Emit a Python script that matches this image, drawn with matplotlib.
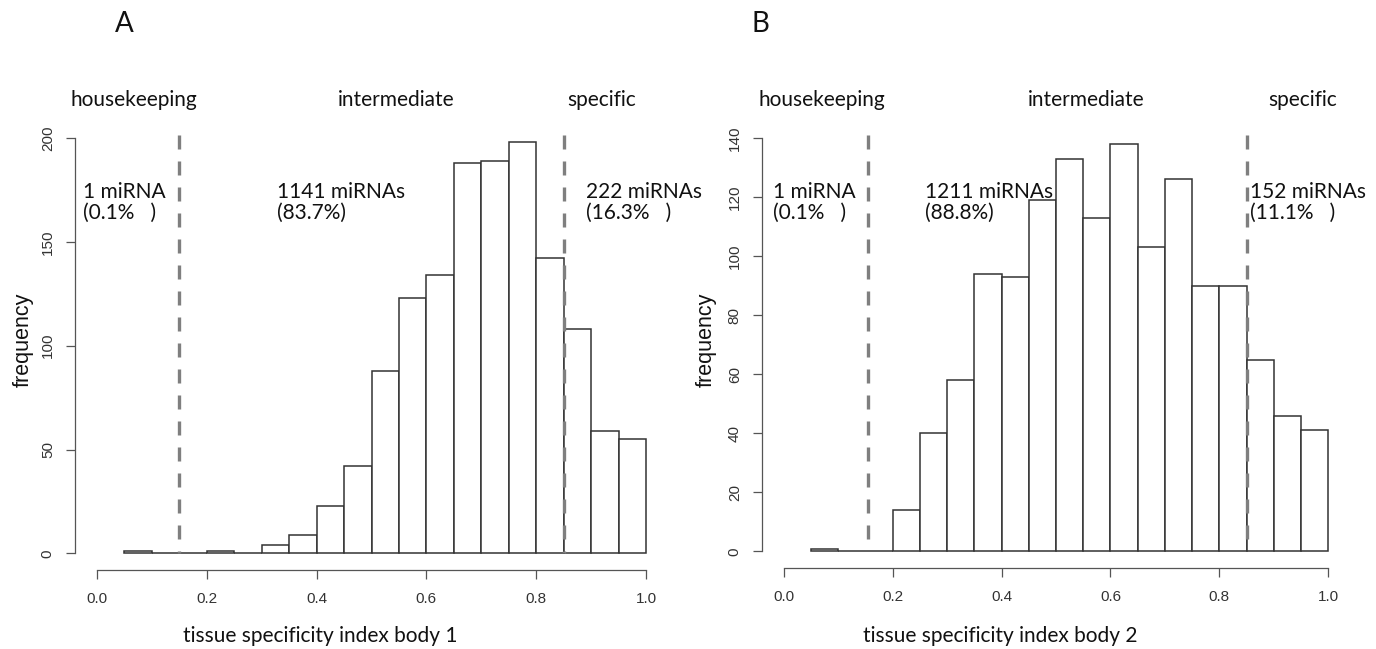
import matplotlib
matplotlib.use("Agg")
import matplotlib.pyplot as plt

# ---------------- data ----------------
bin_edges = [0.05, 0.10, 0.15, 0.20, 0.25, 0.30, 0.35, 0.40, 0.45, 0.50,
             0.55, 0.60, 0.65, 0.70, 0.75, 0.80, 0.85, 0.90, 0.95, 1.00]
counts_body1 = [1, 0, 0, 1, 0, 4, 9, 23, 42, 88, 123, 134, 188, 189, 198, 142, 108, 59, 55]
counts_body2 = [1, 0, 0, 14, 40, 58, 94, 93, 119, 133, 113, 138, 103, 126, 90, 90, 65, 46, 41]
x_ticks = [0.0, 0.2, 0.4, 0.6, 0.8, 1.0]
x_tick_labels = ["0.0", "0.2", "0.4", "0.6", "0.8", "1.0"]
y_ticks_body1 = [0, 50, 100, 150, 200]
y_ticks_body2 = [0, 20, 40, 60, 80, 100, 120, 140]
thresholds_body1 = [0.15, 0.85]
thresholds_body2 = [0.155, 0.85]
group_names = ["housekeeping", "intermediate", "specific"]
counts_text_body1 = ["1 miRNA", "1141 miRNAs", "222 miRNAs"]
pct_text_body1 = ["(0.1%   )", "(83.7%)", "(16.3%   )"]
counts_text_body2 = ["1 miRNA", "1211 miRNAs", "152 miRNAs"]
pct_text_body2 = ["(0.1%   )", "(88.8%)", "(11.1%   )"]
xlabels = ["tissue specificity index body 1", "tissue specificity index body 2"]
panel_letters = ["A", "B"]

W, H = 1376, 649
fig = plt.figure(figsize=(W / 100, H / 100), dpi=100)
fig.patch.set_facecolor("white")

def fx(x):
    return x / W

def fy(y):
    return 1 - y / H

TXT = "Lato"
RFONT = "Liberation Sans"
EDGE = "#333333"
AXC = "#555555"

def panel(rect_px, counts, yticks, ymax, thresholds, letter, letter_x,
          group_x, count_x, ctext, ptext, freq_x, xlab, xlab_x):
    l, t, r, b = rect_px
    ax = fig.add_axes([fx(l), fy(b), fx(r) - fx(l), fy(t) - fy(b)])
    pad_y = ymax * 0.04
    ax.set_xlim(-0.04, 1.04)
    ax.set_ylim(-pad_y, ymax + pad_y)
    lefts = bin_edges[:-1]
    widths = [bin_edges[i + 1] - bin_edges[i] for i in range(len(lefts))]
    ax.bar(lefts, counts, width=widths, align="edge", facecolor="white",
           edgecolor=EDGE, linewidth=1.1, zorder=2)
    for thr in thresholds:
        ax.plot([thr, thr], [ymax + 1.5 * ymax / 200, 0], color="#7f7f7f",
                linewidth=2.4, linestyle=(0, (4.2, 3.6)), zorder=3,
                solid_capstyle="butt", dash_capstyle="butt")
    for s in ["top", "right"]:
        ax.spines[s].set_visible(False)
    ax.spines["left"].set_bounds(0, ymax)
    ax.spines["bottom"].set_bounds(0, 1)
    for s in ["left", "bottom"]:
        ax.spines[s].set_color(AXC)
        ax.spines[s].set_linewidth(0.9)
    ax.set_xticks(x_ticks)
    ax.set_xticklabels(x_tick_labels)
    ax.set_yticks(yticks)
    ax.set_yticklabels([str(v) for v in yticks])
    ax.tick_params(axis="both", direction="out", length=6.5, width=0.9,
                   color=AXC, labelcolor="#333333", labelsize=11)
    ax.tick_params(axis="x", pad=9)
    ax.tick_params(axis="y", pad=8, labelrotation=90)
    for lab in ax.get_yticklabels():
        lab.set_va("center")
        lab.set_fontfamily(RFONT)
    for lab in ax.get_xticklabels():
        lab.set_fontfamily(RFONT)
    ax.set_facecolor("white")

    fig.text(fx(letter_x), fy(24), letter, fontsize=20, family=TXT,
             ha="center", va="center", color="#111111")
    for name, gx in zip(group_names, group_x):
        fig.text(fx(gx), fy(106), name, fontsize=15, family=TXT,
                 ha="center", va="baseline", color="#111111")
    for c1, c2, cx in zip(ctext, ptext, count_x):
        fig.text(fx(cx), fy(198), c1, fontsize=15, family=TXT,
                 ha="left", va="baseline", color="#111111")
        fig.text(fx(cx), fy(219), c2, fontsize=15, family=TXT,
                 ha="left", va="baseline", color="#111111")
    fig.text(fx(freq_x), fy(340), "frequency", fontsize=15.5, family=RFONT,
             rotation=90, ha="center", va="center", color="#111111")
    fig.text(fx(xlab_x), fy(642), xlab, fontsize=15, family=TXT,
             ha="center", va="baseline", color="#111111")
    return ax

panel((75, 121.4, 668, 570), counts_body1, y_ticks_body1, 200, thresholds_body1,
      panel_letters[0], 124, [134, 396, 602], [83, 277, 586],
      counts_text_body1, pct_text_body1, 23, xlabels[0], 320)
panel((762, 121.5, 1350, 568), counts_body2, y_ticks_body2, 140, thresholds_body2,
      panel_letters[1], 760, [822, 1086, 1303], [773, 925, 1250],
      counts_text_body2, pct_text_body2, 706, xlabels[1], 1000)

fig.savefig("out.png", dpi=100, facecolor="white")
